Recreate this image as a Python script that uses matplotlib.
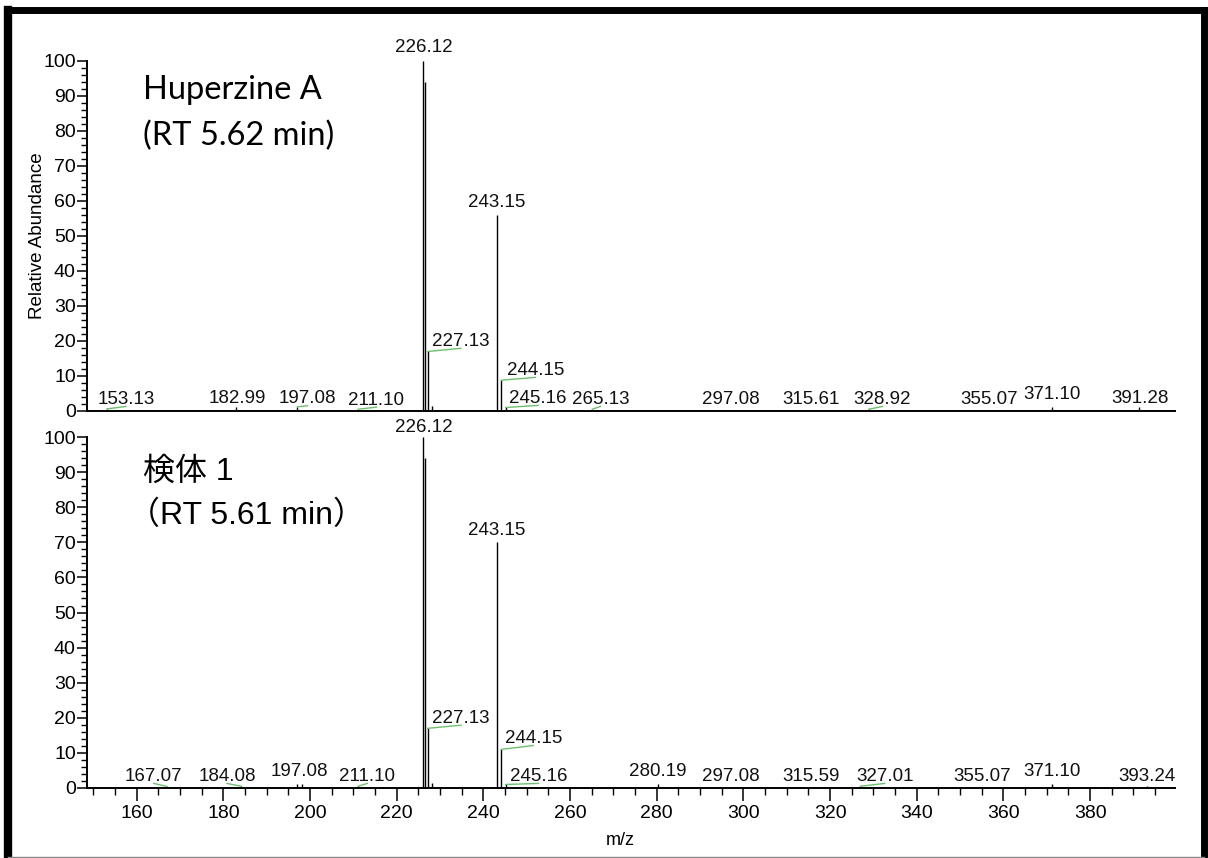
import matplotlib.pyplot as plt
from matplotlib.lines import Line2D
from matplotlib.ticker import MultipleLocator

# Peak data (m/z, relative abundance)
top_mz = [153.13, 182.99, 197.08, 211.10, 226.12, 227.13, 243.15, 244.15,
          245.16, 265.13, 297.08, 315.61, 328.92, 355.07, 371.10, 391.28]
top_int = [0.6, 1.0, 1.2, 0.5, 100, 17, 56, 8.8,
           1.0, 0.5, 0.4, 0.4, 0.5, 0.4, 1.2, 1.0]
top_extra_mz = [226.58, 228.14]
top_extra_int = [94, 1.5]

bot_mz = [167.07, 184.08, 197.08, 211.10, 226.12, 227.13, 243.15, 244.15,
          245.16, 280.19, 297.08, 315.59, 327.01, 355.07, 371.10, 393.24]
bot_int = [0.4, 0.5, 1.2, 0.5, 100, 17, 70, 11,
           1.0, 1.2, 0.4, 0.4, 0.5, 0.4, 1.2, 0.5]
bot_extra_mz = [226.58, 228.14, 198.09]
bot_extra_int = [94, 1.5, 1.0]

top_title = ["Huperzine A", "(RT 5.62 min)"]
bot_title = ["検体 1", "（RT 5.61 min）"]

# label placement: x position, baseline height, leader line to the peak
top_lab_x = [157.5, 183.2, 199.4, 215.3, 226.12, 234.8, 243.15, 252.0,
             252.6, 267.0, 297.2, 315.7, 332.1, 356.6, 371.2, 391.6]
top_lab_y = [2.0, 2.2, 2.2, 1.8, 102.6, 18.6, 58.3, 10.3,
             2.3, 2.0, 2.0, 2.0, 2.0, 2.0, 3.4, 2.4]
top_leader = [1, 0, 1, 1, 0, 1, 0, 1, 1, 1, 0, 0, 1, 0, 0, 0]

bot_lab_x = [163.9, 180.8, 197.5, 213.2, 226.12, 234.8, 243.15, 251.5,
             252.7, 280.2, 297.2, 315.7, 332.6, 355.0, 371.2, 393.2]
bot_lab_y = [2.0, 2.0, 3.4, 2.0, 101.4, 18.6, 72.2, 12.8,
             2.0, 3.4, 2.0, 2.0, 2.0, 2.0, 3.4, 2.0]
bot_leader = [1, 1, 0, 1, 0, 1, 0, 1, 1, 0, 0, 0, 1, 0, 0, 0]

num_font = "Liberation Sans"
leader_color = "#6cc06c"

fig = plt.figure(figsize=(12.08, 8.58), dpi=100)
ax1 = fig.add_axes([0.072, 0.521, 0.9007, 0.408])
ax2 = fig.add_axes([0.072, 0.0816, 0.9007, 0.409])


def draw_panel(ax, mz, inten, extra_mz, extra_int, lab_x, lab_y, leader):
    ax.vlines(mz, 0, inten, color="black", lw=1.0)
    ax.vlines(extra_mz, 0, extra_int, color="black", lw=1.0)
    for m, h, lx, ly, ld in zip(mz, inten, lab_x, lab_y, leader):
        ax.text(lx, ly, f"{m:.2f}", ha="center", va="baseline",
                fontsize=13.5, family=num_font, color="#111111")
        if ld:
            ax.plot([m, lx], [h, ly - 0.7], color=leader_color, lw=1.0,
                    clip_on=False)
    ax.set_xlim(148.5, 399.6)
    ax.set_ylim(0, 100)
    for side in ("top", "right"):
        ax.spines[side].set_visible(False)
    for side in ("left", "bottom"):
        ax.spines[side].set_linewidth(1.4)
    ax.yaxis.set_major_locator(MultipleLocator(10))
    ax.yaxis.set_minor_locator(MultipleLocator(2))
    ax.tick_params(axis="y", which="major", length=7, width=1.1, pad=1,
                   labelsize=14)
    ax.tick_params(axis="y", which="minor", length=4, width=1.0)
    for lab in ax.get_yticklabels():
        lab.set_family(num_font)


draw_panel(ax1, top_mz, top_int, top_extra_mz, top_extra_int,
           top_lab_x, top_lab_y, top_leader)
draw_panel(ax2, bot_mz, bot_int, bot_extra_mz, bot_extra_int,
           bot_lab_x, bot_lab_y, bot_leader)

# top panel: bare x axis
ax1.tick_params(axis="x", which="both", bottom=False, labelbottom=False)

# bottom panel: m/z axis
ax2.xaxis.set_major_locator(MultipleLocator(20))
ax2.xaxis.set_minor_locator(MultipleLocator(5))
ax2.tick_params(axis="x", which="major", length=9, width=1.1, pad=3,
                labelsize=14)
ax2.tick_params(axis="x", which="minor", length=5, width=1.0)
for lab in ax2.get_xticklabels():
    lab.set_family(num_font)

ax1.set_ylabel("Relative Abundance", fontsize=13.5, family=num_font)
ax1.yaxis.set_label_coords(-0.038, 0.5)
ax2.set_xlabel("m/z", fontsize=13, family=num_font)
ax2.xaxis.set_label_coords(0.49, -0.125)

# sample names
ax1.text(0.0515, 0.917, top_title[0], transform=ax1.transAxes, ha="left",
         va="center", fontsize=23.5, family="Lato")
ax1.text(0.0515, 0.787, top_title[1], transform=ax1.transAxes, ha="left",
         va="center", fontsize=23.5, family="Lato")
cjk = [num_font, "Noto Sans CJK JP"]
ax2.text(0.0515, 0.90, bot_title[0], transform=ax2.transAxes, ha="left",
         va="center", fontsize=23, family=cjk)
ax2.text(0.0515 - 0.014, 0.775, bot_title[1], transform=ax2.transAxes,
         ha="left", va="center", fontsize=23, family=cjk)

# frame around the figure
W, H = 1208, 858
def px_line(x0, y0, x1, y1, lw, color):
    fig.add_artist(Line2D([x0 / W, x1 / W], [1 - y0 / H, 1 - y1 / H],
                          transform=fig.transFigure, lw=lw, color=color,
                          solid_capstyle="projecting"))

px_line(8, 10, 8, 858, 6, "black")
px_line(8, 10, 1204, 10, 5, "black")
px_line(1204, 10, 1204, 858, 5, "black")
px_line(8, 856.5, 1204, 856.5, 1, "#888888")

fig.savefig("out.png", dpi=100)
